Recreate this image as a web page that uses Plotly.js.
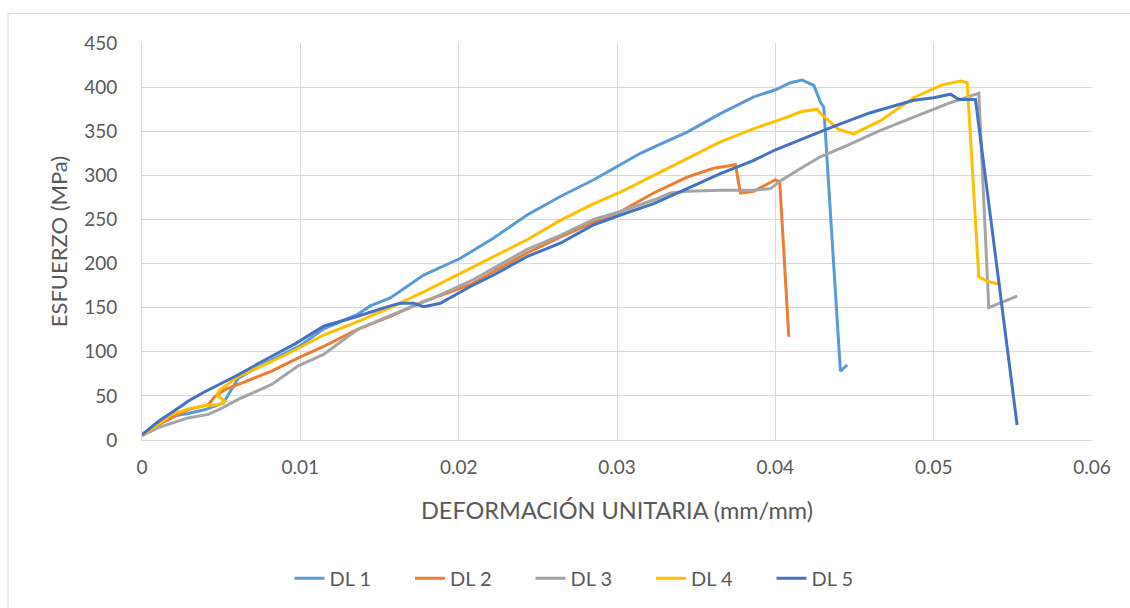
<!DOCTYPE html>
<html>
<head>
<meta charset="utf-8">
<script src="https://cdn.plot.ly/plotly-3.0.1.min.js"></script>
<style>html,body{margin:0;padding:0;background:#fff;}#chart{width:1130px;height:608px;}</style>
</head>
<body>
<div id="chart"></div>
<script>
const seriesNames = ["DL 1", "DL 2", "DL 3", "DL 4", "DL 5"];
const seriesColors = ["#5B9BD5", "#ED7D31", "#A5A5A5", "#FFC000", "#4472C4"];

const dl1X = [0, 0.00103, 0.00187, 0.0029, 0.004, 0.00514, 0.00566, 0.00608, 0.00819, 0.01, 0.01147, 0.01358, 0.01442, 0.01568, 0.01779, 0.01905, 0.02011, 0.02221, 0.02432, 0.02642, 0.02853, 0.03001, 0.03148, 0.03232, 0.03443, 0.03653, 0.03864, 0.04001, 0.04095, 0.04169, 0.04243, 0.04285, 0.04306, 0.04411, 0.04454];
const dl1Y = [5, 17, 27, 30, 34.5, 42, 57, 70, 91, 107, 126, 142, 152, 161, 187, 197, 206, 229, 255, 276, 295, 310, 325, 332, 349, 370, 389, 397, 405, 408, 402, 383, 377, 78, 85];

const dl2X = [0, 0.00103, 0.0029, 0.00419, 0.00461, 0.00522, 0.00608, 0.00819, 0.00987, 0.01147, 0.01358, 0.01568, 0.01779, 0.02074, 0.02221, 0.02432, 0.02642, 0.02853, 0.03022, 0.03232, 0.03443, 0.03611, 0.03748, 0.0378, 0.03864, 0.04001, 0.04028, 0.04085];
const dl2Y = [5, 17.5, 34.5, 40, 49.5, 57, 63, 78, 93, 106, 125, 140, 157, 176, 191, 212, 230, 247, 259, 280, 298, 308, 312, 280, 282, 295, 292, 117];

const dl3X = [0, 0.00103, 0.0029, 0.00419, 0.00503, 0.00608, 0.00819, 0.00987, 0.01147, 0.01358, 0.01568, 0.01842, 0.02074, 0.02221, 0.02432, 0.02642, 0.02853, 0.03022, 0.03232, 0.03338, 0.03443, 0.0365, 0.03864, 0.0397, 0.04033, 0.0418, 0.04285, 0.04454, 0.04664, 0.04874, 0.05085, 0.05285, 0.05348, 0.05527];
const dl3Y = [5, 14, 25, 29, 36, 46, 63, 84, 97, 125, 141, 161, 180, 195, 216, 232, 250, 259, 272, 280, 282, 283, 283, 285, 294, 310, 321, 334, 351, 366, 381, 393, 150, 163];

const dl4X = [0, 0.00103, 0.00187, 0.0029, 0.004, 0.00482, 0.00524, 0.00471, 0.00493, 0.00608, 0.00819, 0.00967, 0.01147, 0.01358, 0.01568, 0.01779, 0.02074, 0.02221, 0.02432, 0.02642, 0.02853, 0.03022, 0.03232, 0.03443, 0.03653, 0.03864, 0.04001, 0.04075, 0.04159, 0.04264, 0.04285, 0.044, 0.04495, 0.04664, 0.04874, 0.04938, 0.05045, 0.05169, 0.05212, 0.05285, 0.05338, 0.05422];
const dl4Y = [5, 18, 29, 35, 39, 40, 44, 51, 57, 72, 89, 102, 119, 134, 150, 168, 195, 208, 227, 249, 268, 281, 300, 319, 338, 353, 361, 366, 372, 375, 370, 352, 347, 362, 388, 393, 402, 407, 405, 185, 180, 176];

const dl5X = [0, 0.00103, 0.0026, 0.0029, 0.004, 0.00608, 0.00819, 0.00967, 0.01147, 0.01358, 0.01568, 0.01632, 0.01716, 0.01779, 0.01884, 0.02074, 0.02221, 0.02432, 0.02642, 0.02853, 0.03022, 0.03232, 0.03443, 0.03653, 0.03864, 0.04001, 0.0418, 0.0439, 0.046, 0.04874, 0.05001, 0.05106, 0.05159, 0.05264, 0.05527];
const dl5Y = [6, 21, 40, 44, 55, 74, 95, 109, 129, 140, 152, 155, 155, 151, 155, 174, 187, 208, 223, 244, 255, 268, 285, 302, 317, 329, 342, 357, 371, 385, 388, 392, 386, 386, 17];

const xTicks = [0, 0.01, 0.02, 0.03, 0.04, 0.05, 0.06];
const xTickLabels = ["0", "0.01", "0.02", "0.03", "0.04", "0.05", "0.06"];
const yTicks = [0, 50, 100, 150, 200, 250, 300, 350, 400, 450];

const xs = [dl1X, dl2X, dl3X, dl4X, dl5X];
const ys = [dl1Y, dl2Y, dl3Y, dl4Y, dl5Y];

const traces = seriesNames.map((n, i) => ({
  type: 'scatter', mode: 'lines', name: n, x: xs[i], y: ys[i],
  line: {color: seriesColors[i], width: 3}
}));

const font = "Lato, 'Open Sans', sans-serif";
const layout = {
  width: 1130, height: 608,
  margin: {l: 142, r: 38, t: 43, b: 167.5, pad: 0},
  paper_bgcolor: '#fff', plot_bgcolor: '#fff',
  font: {family: font, color: '#595959', size: 19},
  showlegend: true,
  legend: {orientation: 'h', xref: 'container', yref: 'container', x: 0.523, y: 0.049,
    xanchor: 'center', yanchor: 'middle', font: {size: 20, color: '#595959'}, entrywidth: 75.5,
    traceorder: 'normal'},
  xaxis: {range: [0, 0.06], tickvals: xTicks, ticktext: xTickLabels, showgrid: true,
    gridcolor: '#D9D9D9', gridwidth: 1, showline: true, linecolor: '#D9D9D9', linewidth: 1,
    zeroline: false, ticks: '', ticklabelstandoff: 10, tickfont: {size: 19, color: '#595959'},
    title: {text: 'DEFORMACIÓN UNITARIA (mm/mm)', font: {size: 23.5, color: '#595959'}, standoff: 25}},
  yaxis: {range: [0, 450], tickvals: yTicks, showgrid: true, gridcolor: '#D9D9D9', gridwidth: 1,
    showline: true, linecolor: '#D9D9D9', linewidth: 1, zeroline: false, ticks: '',
    ticklabelstandoff: 20, tickfont: {size: 19, color: '#595959'},
    title: {text: 'ESFUERZO (MPa)', font: {size: 22, color: '#595959'}, standoff: 10}},
  shapes: [{type: 'rect', xref: 'paper', yref: 'paper', x0: -0.141, x1: 1.2, y0: -1, y1: 1.0747,
    line: {color: '#D9D9D9', width: 1}, fillcolor: 'rgba(0,0,0,0)', layer: 'below'}]
};

Plotly.newPlot('chart', traces, layout, {displayModeBar: false, staticPlot: true});
</script>
</body>
</html>
